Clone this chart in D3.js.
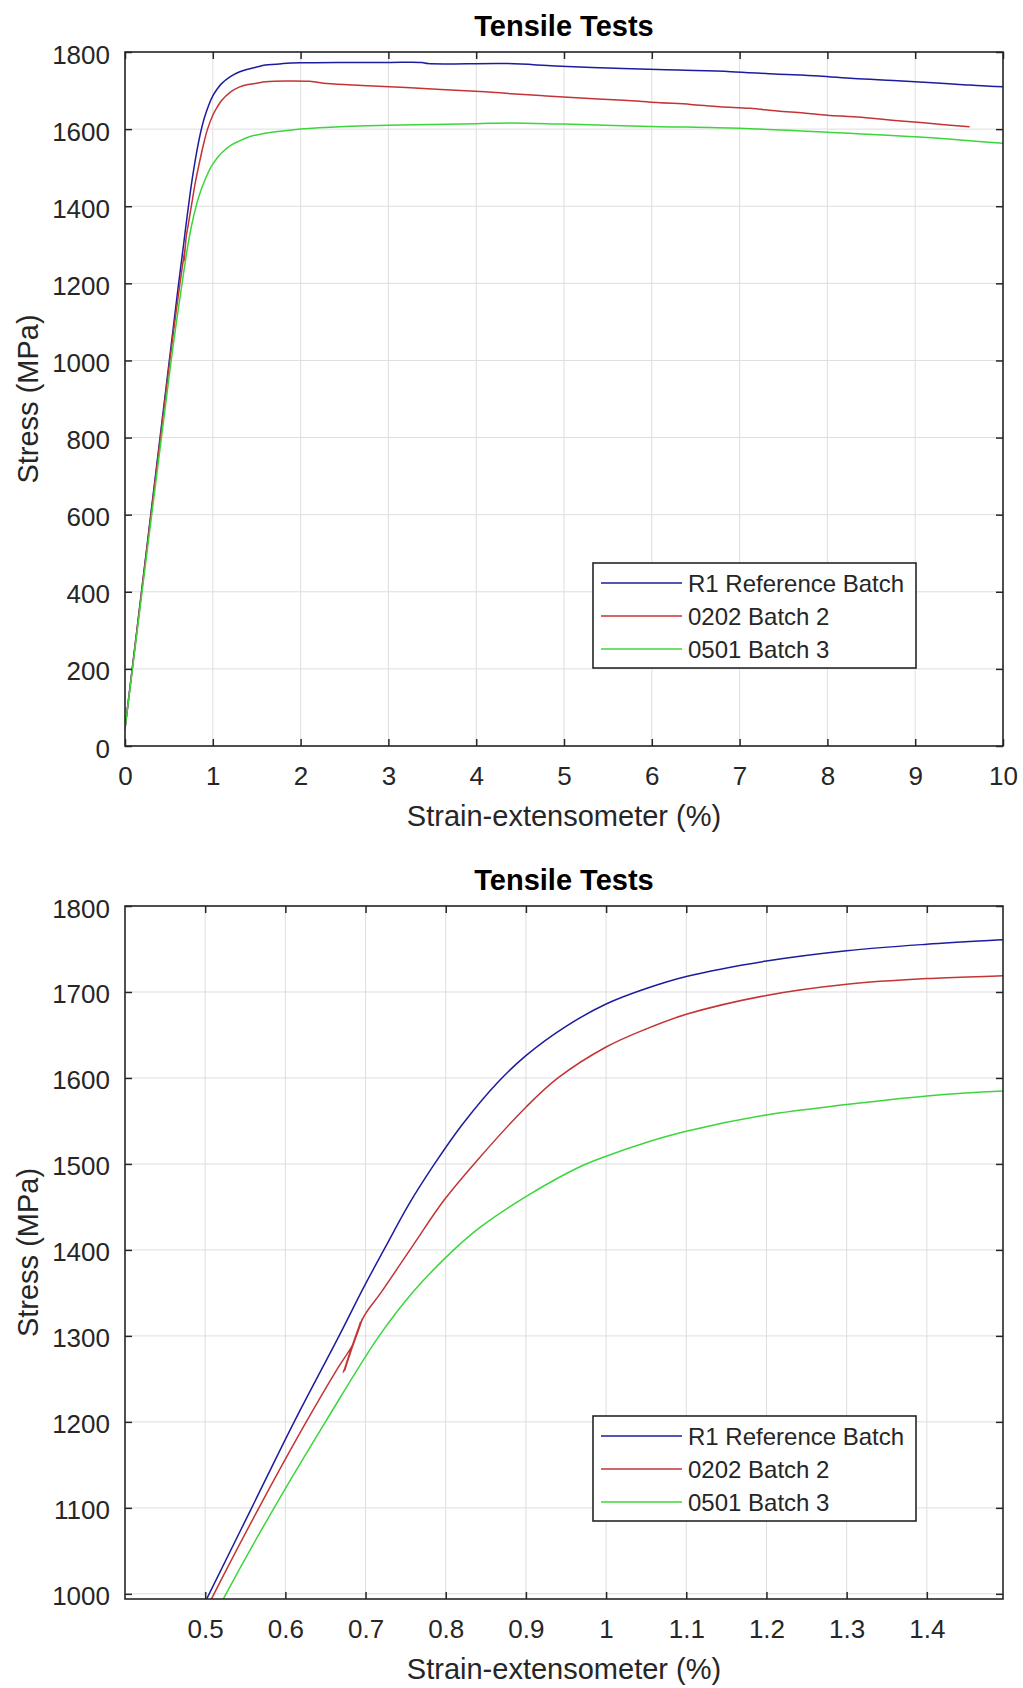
<!DOCTYPE html>
<html>
<head>
<meta charset="utf-8">
<script src="https://cdn.jsdelivr.net/npm/d3@7"></script>
<style>
  body { margin: 0; background: #ffffff; }
  svg { display: block; font-family: "Liberation Sans", Arial, Helvetica, sans-serif; }
</style>
</head>
<body>
<svg id="chart" width="1023" height="1688"></svg>
<script>
// ---------------- DATA ----------------
const seriesNames = ["R1 Reference Batch", "0202 Batch 2", "0501 Batch 3"];

const r1Strain = [0, 0.505, 0.558, 0.611, 0.667, 0.698, 0.724, 0.754, 0.786, 0.82, 0.865, 0.9, 0.95, 1.0, 1.05, 1.1, 1.2, 1.3, 1.4, 1.5, 1.6, 1.8, 2.0, 2.5, 3.0, 3.38, 3.45, 4.36, 4.9, 5.67, 6.3, 6.9, 7.4, 7.9, 8.3, 8.75, 9.15, 9.5, 9.85, 10.0];
const r1Stress = [45, 1000, 1100, 1200, 1300, 1357, 1402, 1453, 1500, 1545, 1595, 1626, 1660, 1686, 1704, 1718, 1736, 1748, 1755.5, 1761, 1766, 1770, 1772, 1773, 1773, 1773, 1770, 1770, 1764, 1757, 1753, 1749, 1743, 1738, 1731, 1726, 1721, 1716, 1711, 1710];

const b2Strain = [0, 0.511, 0.567, 0.623, 0.665, 0.684, 0.696, 0.672, 0.694, 0.674, 0.697, 0.719, 0.759, 0.798, 0.84, 0.9, 0.94, 1.0, 1.05, 1.1, 1.2, 1.3, 1.4, 1.5, 1.6, 2.1, 2.3, 2.7, 3.2, 3.6, 4.1, 4.4, 4.8, 5.24, 5.68, 6.06, 6.44, 6.77, 7.12, 7.43, 7.73, 8.0, 8.3, 8.6, 8.8, 9.06, 9.3, 9.62];
const b2Stress = [45, 1000, 1100, 1195, 1262, 1290, 1320, 1257, 1317, 1260, 1321, 1350, 1405, 1458, 1505, 1566, 1600, 1636, 1657, 1674, 1696, 1709, 1715.6, 1719, 1723, 1724, 1718, 1713, 1708, 1703, 1697, 1692, 1686, 1680, 1675, 1669, 1664, 1658, 1654, 1647, 1642, 1636, 1632, 1626, 1622, 1617, 1612, 1606];

const b3Strain = [0, 0.526, 0.586, 0.65, 0.717, 0.76, 0.81, 0.844, 0.9, 0.968, 1.0, 1.05, 1.1, 1.2, 1.3, 1.4, 1.5, 2.0, 2.5, 3.0, 3.5, 4.0, 4.4, 5.0, 6.0, 7.0, 8.0, 9.0, 10.0];
const b3Stress = [45, 1000, 1100, 1200, 1300, 1352, 1400, 1427, 1462, 1497, 1509, 1525, 1538, 1557, 1569, 1579, 1585, 1600, 1607, 1610, 1612, 1614, 1616, 1613, 1607, 1602, 1592, 1580, 1563];

const xTicksFull = [0, 1, 2, 3, 4, 5, 6, 7, 8, 9, 10];
const yTicksFull = [0, 200, 400, 600, 800, 1000, 1200, 1400, 1600, 1800];
const xTicksZoom = [0.5, 0.6, 0.7, 0.8, 0.9, 1, 1.1, 1.2, 1.3, 1.4];
const yTicksZoom = [1000, 1100, 1200, 1300, 1400, 1500, 1600, 1700, 1800];

const chartTitle = "Tensile Tests";
const xLabel = "Strain-extensometer (%)";
const yLabel = "Stress (MPa)";

// ---------------- STYLE ----------------
const colors = ["#1c1c9e", "#c43434", "#3cd63c"];
const axisColor = "#262626";
const gridColor = "#dedede";

const series = [
  { name: seriesNames[0], color: colors[0], pts: r1Strain.map((x, i) => [x, r1Stress[i]]) },
  { name: seriesNames[1], color: colors[1], pts: b2Strain.map((x, i) => [x, b2Stress[i]]) },
  { name: seriesNames[2], color: colors[2], pts: b3Strain.map((x, i) => [x, b3Stress[i]]) }
];

const svg = d3.select("#chart");
svg.append("rect").attr("width", 1023).attr("height", 1688).attr("fill", "#fff");

function drawPanel(id, cfg) {
  const { left, top, right, bottom, xDomain, yDomain, xTicks, yTicks } = cfg;
  const x = d3.scaleLinear().domain(xDomain).range([left, right]);
  const y = d3.scaleLinear().domain(yDomain).range([bottom, top]);
  const g = svg.append("g");

  g.append("clipPath").attr("id", "clip" + id)
    .append("rect").attr("x", left).attr("y", top)
    .attr("width", right - left).attr("height", bottom - top);

  // grid
  const grid = g.append("g");
  grid.selectAll("line.gx").data(xTicks).join("line")
    .attr("class", "gx")
    .attr("x1", d => x(d)).attr("x2", d => x(d))
    .attr("y1", top).attr("y2", bottom)
    .attr("stroke", gridColor).attr("stroke-width", 1);
  grid.selectAll("line.gy").data(yTicks).join("line")
    .attr("class", "gy")
    .attr("x1", left).attr("x2", right)
    .attr("y1", d => y(d)).attr("y2", d => y(d))
    .attr("stroke", gridColor).attr("stroke-width", 1);

  // series
  const line = d3.line().curve(d3.curveCatmullRom.alpha(0.5))
    .x(d => x(d[0])).y(d => y(d[1]));
  g.append("g").attr("clip-path", `url(#clip${id})`)
    .selectAll("path").data(series).join("path")
    .attr("d", d => line(d.pts))
    .attr("fill", "none")
    .attr("stroke", d => d.color)
    .attr("stroke-width", 1.5)
    .attr("stroke-linejoin", "round");

  // axes with inward ticks (bottom/left labelled, top/right mirrored)
  const tl = 7;
  const ax = d3.axisBottom(x).tickValues(xTicks).tickSizeInner(-tl).tickSizeOuter(0).tickFormat(d => String(d));
  const axG = g.append("g").attr("transform", `translate(0,${bottom})`).call(ax);
  axG.selectAll("text").attr("y", 39).attr("dy", null);
  const ay = d3.axisLeft(y).tickValues(yTicks).tickSizeInner(-tl).tickSizeOuter(0).tickFormat(d => String(d));
  const ayG = g.append("g").attr("transform", `translate(${left},0)`).call(ay);
  ayG.selectAll("text").attr("x", -15).attr("dy", null).attr("y", 11);
  const axT = d3.axisTop(x).tickValues(xTicks).tickSizeInner(-tl).tickSizeOuter(0).tickFormat("");
  g.append("g").attr("transform", `translate(0,${top})`).call(axT);
  const ayR = d3.axisRight(y).tickValues(yTicks).tickSizeInner(-tl).tickSizeOuter(0).tickFormat("");
  g.append("g").attr("transform", `translate(${right},0)`).call(ayR);

  g.selectAll(".tick line").attr("stroke", axisColor).attr("stroke-width", 1.5);
  g.selectAll(".domain").attr("stroke", "none");
  g.selectAll(".tick text").attr("fill", axisColor).attr("font-size", 26)
    .attr("font-family", '"Liberation Sans", Arial, sans-serif');

  // box
  g.append("rect").attr("x", left).attr("y", top)
    .attr("width", right - left).attr("height", bottom - top)
    .attr("fill", "none").attr("stroke", axisColor).attr("stroke-width", 1.6);

  // title and labels
  const cx = (left + right) / 2;
  g.append("text").attr("x", cx).attr("y", top - 16)
    .attr("text-anchor", "middle").attr("font-size", 29).attr("font-weight", "bold")
    .attr("fill", "#000").text(chartTitle);
  g.append("text").attr("x", cx).attr("y", bottom + 80)
    .attr("text-anchor", "middle").attr("font-size", 29)
    .attr("fill", axisColor).text(xLabel);
  g.append("text").attr("transform", `translate(38,${(top + bottom) / 2}) rotate(-90)`)
    .attr("text-anchor", "middle").attr("font-size", 29)
    .attr("fill", axisColor).text(yLabel);

  // legend
  const lgX = right - 410, lgW = 323, lgH = 105;
  const lgY = bottom - 78 - lgH;
  const lg = g.append("g");
  lg.append("rect").attr("x", lgX).attr("y", lgY).attr("width", lgW).attr("height", lgH)
    .attr("fill", "#fff").attr("stroke", axisColor).attr("stroke-width", 1.6);
  const rows = lg.selectAll("g.row").data(series).join("g")
    .attr("class", "row")
    .attr("transform", (d, i) => `translate(${lgX},${lgY + 20 + i * 33})`);
  rows.append("line").attr("x1", 8).attr("x2", 89).attr("y1", 0).attr("y2", 0)
    .attr("stroke", d => d.color).attr("stroke-width", 1.5);
  rows.append("text").attr("x", 95).attr("y", 0).attr("dy", "0.36em")
    .attr("font-size", 24).attr("fill", axisColor).text(d => d.name);
}

drawPanel("A", {
  left: 125, right: 1003, top: 52, bottom: 746,
  xDomain: [0, 10], yDomain: [0, 1800],
  xTicks: xTicksFull, yTicks: yTicksFull
});

drawPanel("B", {
  left: 125, right: 1003, top: 906, bottom: 1599,
  xDomain: [0.4, 1.495], yDomain: [994, 1800],
  xTicks: xTicksZoom, yTicks: yTicksZoom
});
</script>
</body>
</html>
